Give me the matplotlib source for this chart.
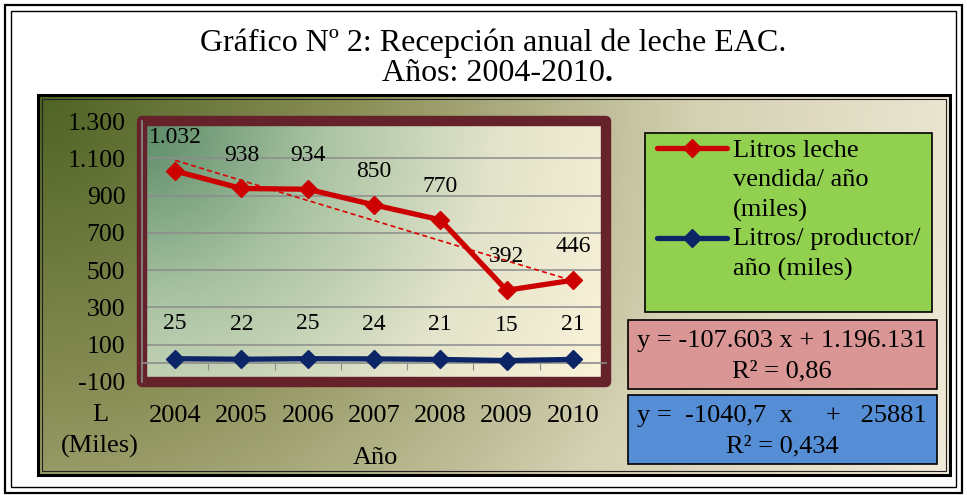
import matplotlib.pyplot as plt
import matplotlib.patches as mpatches
from matplotlib.lines import Line2D
from matplotlib.colors import LinearSegmentedColormap
import numpy as np

plt.rcParams['font.family'] = ['Liberation Serif', 'DejaVu Serif']

# data
years = ['2004', '2005', '2006', '2007', '2008', '2009', '2010']
litros_vendida = [1032, 938, 934, 850, 770, 392, 446]   # miles de litros / año
litros_productor = [25, 22, 25, 24, 21, 15, 21]          # miles de litros / productor / año
yticks = [-100, 100, 300, 500, 700, 900, 1100, 1300]

W, H = 967, 495


def fx(x):
    return x / W


def fy(y):
    return 1 - y / H


def miles(v):
    # thousands separator with a dot, as in the original
    return f'{v:,.0f}'.replace(',', '.')


def gradient(nx, ny, stops, aspect):
    u = np.linspace(0, 1, nx)[None, :]
    v = np.linspace(0, 1, ny)[:, None]   # 0 = top
    t = np.sqrt((u * aspect) ** 2 + v ** 2) / np.sqrt(aspect ** 2 + 1)
    cmap = LinearSegmentedColormap.from_list('g', stops)
    return cmap(np.clip(t, 0, 1))


fig = plt.figure(figsize=(W / 100, H / 100), dpi=100)

# outer double border of the page
fig.patches.append(mpatches.Rectangle((fx(5), fy(493)), fx(957), 488 / H, fill=False,
                                      ec='black', lw=1.6, transform=fig.transFigure))
fig.patches.append(mpatches.Rectangle((fx(11), fy(487)), fx(945), 476 / H, fill=False,
                                      ec='black', lw=1.0, transform=fig.transFigure))

# chart area background (gradient)
bg = fig.add_axes([fx(38), fy(475), 912 / W, 380 / H])
bg.imshow(gradient(300, 150, ['#4f6424', '#8d915a', '#d4d0b2', '#f1ebd9'], 912 / 380),
          extent=[0, 1, 0, 1], aspect='auto')
bg.set_xlim(0, 1)
bg.set_ylim(0, 1)
bg.axis('off')
fig.patches.append(mpatches.Rectangle((fx(38), fy(475)), 912 / W, 380 / H, fill=False,
                                      ec='black', lw=2.2, transform=fig.transFigure, zorder=5))
fig.patches.append(mpatches.Rectangle((fx(42), fy(471)), 904 / W, 372 / H, fill=False,
                                      ec='#222222', lw=0.8, transform=fig.transFigure, zorder=5))

# title
fig.text(fx(493), fy(43), 'Gráfico Nº 2: Recepción anual de leche EAC.',
         ha='center', va='center', fontsize=23)
t2 = fig.text(fx(493), fy(73), 'Años: 2004-2010', ha='center', va='center', fontsize=23)
bg.annotate('.', xy=(1, 0.5), xycoords=t2, ha='left', va='center', fontsize=23,
            fontweight='bold', annotation_clip=False)

# plot area
ax = fig.add_axes([fx(142), fy(382), 464 / W, 261 / H])
x = np.arange(len(years))
ax.set_xlim(-0.5, len(years) - 0.5)
ax.set_ylim(-100, 1300)
ax.imshow(gradient(300, 150, ['#5a8a66', '#a9c3a2', '#e2e3ca', '#fbf3da'], 464 / 261),
          extent=[-0.5, len(years) - 0.5, -100, 1300], aspect='auto', zorder=0)

ax.set_yticks(yticks)
ax.set_yticklabels([miles(v) for v in yticks], fontsize=18.5)
ax.yaxis.grid(True, color='#8c8c8c', lw=1.1)
ax.set_axisbelow(True)
ax.tick_params(axis='y', direction='out', length=4, color='#8c8c8c', pad=8)
ax.set_xticks(np.arange(len(years) + 1) - 0.5)
ax.tick_params(axis='x', direction='out', length=5, color='#8c8c8c', labelbottom=False)
ax.spines['bottom'].set_position(('data', 0))
for s in ['bottom', 'left']:
    ax.spines[s].set_color('#8c8c8c')
    ax.spines[s].set_linewidth(1.2)
for s in ['top', 'right']:
    ax.spines[s].set_visible(False)

frame = mpatches.Rectangle((0, 0), 1, 1, transform=ax.transAxes, fill=False,
                           ec='#65222a', lw=7.5, joinstyle='round', clip_on=False, zorder=1.5)
ax.add_patch(frame)

# trend line
slope, inter = np.polyfit(x, litros_vendida, 1)
ax.plot(x, slope * x + inter, color='#dd0000', lw=1.2, ls=(0, (3, 2)), zorder=2.8)

red, blue = '#cc0000', '#0b2566'
ax.plot(x, litros_vendida, color=red, lw=3.8, marker='D', ms=9.5, zorder=3,
        solid_joinstyle='round')
ax.plot(x, litros_productor, color=blue, lw=3.8, marker='D', ms=9.5, zorder=3,
        solid_joinstyle='round')

for i, v in enumerate(litros_vendida):
    ax.annotate(miles(v), (i, v), xytext=(0, 24), textcoords='offset points',
                ha='center', va='center', fontsize=17, zorder=4)
for i, v in enumerate(litros_productor):
    ax.annotate(miles(v), (i, v), xytext=(0, 25), textcoords='offset points',
                ha='center', va='center', fontsize=17, zorder=4)

# category labels below the frame
for i, yr in enumerate(years):
    ax.text(i, (382 - 416) / 261, yr, transform=ax.get_xaxis_transform(),
            ha='center', va='center', fontsize=19)

fig.text(fx(100), fy(431), 'L\n(Miles)', ha='center', va='center', fontsize=19,
         linespacing=1.45)
fig.text(fx(375), fy(458), 'Año', ha='center', va='center', fontsize=19)

# legend box
fig.patches.append(mpatches.Rectangle((fx(645), fy(312)), 287 / W, 179 / H, fc='#92d050',
                                      ec='black', lw=1.2, transform=fig.transFigure, zorder=6))
for yl, col in [(148, red), (238, blue)]:
    fig.add_artist(Line2D([fx(657), fx(692), fx(727)], [fy(yl)] * 3, color=col, lw=3.8,
                          marker='D', ms=9.5, markevery=[1], solid_capstyle='round',
                          transform=fig.transFigure, zorder=7))
fig.text(fx(733), fy(140), 'Litros leche\nvendida/ año\n(miles)', ha='left', va='top',
         fontsize=19, linespacing=1.44, zorder=7)
fig.text(fx(733), fy(228), 'Litros/ productor/\naño (miles)', ha='left', va='top',
         fontsize=19, linespacing=1.44, zorder=7)

# trend equations
fig.patches.append(mpatches.Rectangle((fx(628), fy(389)), 309 / W, 69 / H, fc='#da9694',
                                      ec='black', lw=1.2, transform=fig.transFigure, zorder=6))
fig.text(fx(782), fy(356), 'y = -107.603 x + 1.196.131\nR² = 0,86', ha='center',
         va='center', fontsize=19, linespacing=1.5, zorder=7)
fig.patches.append(mpatches.Rectangle((fx(628), fy(464)), 309 / W, 69 / H, fc='#558ed5',
                                      ec='black', lw=1.2, transform=fig.transFigure, zorder=6))
fig.text(fx(782), fy(431), 'y =  -1040,7  x     +   25881\nR² = 0,434', ha='center',
         va='center', fontsize=19, linespacing=1.5, zorder=7)

plt.savefig('out.png', dpi=100)
